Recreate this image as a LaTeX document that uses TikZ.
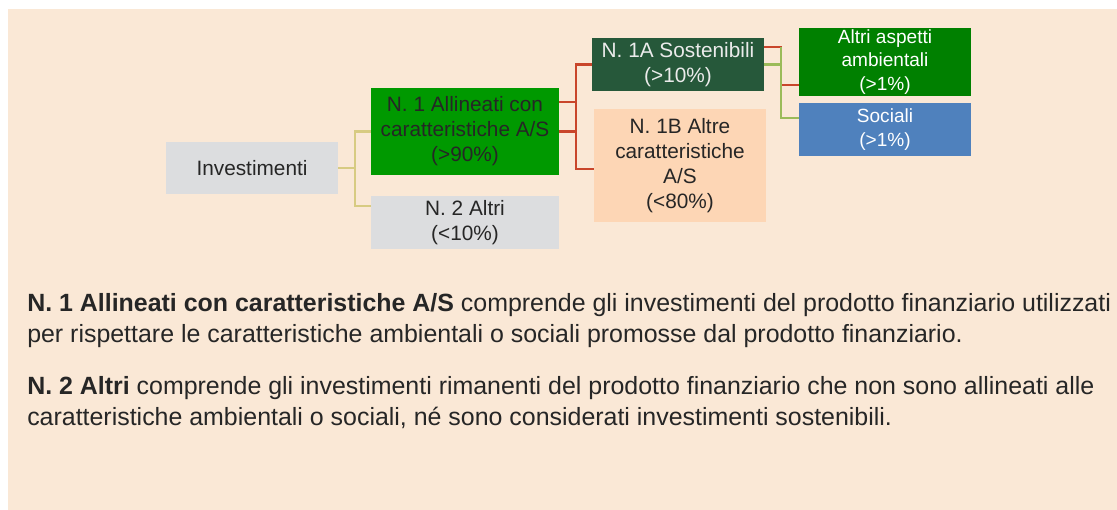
\documentclass[tikz,border=0pt]{standalone}
\usepackage{fontspec}
\setmainfont{Liberation Sans}
\usepackage{xcolor}
\usetikzlibrary{positioning,calc}
\definecolor{PanelBg}{RGB}{250,232,214}
\definecolor{BoxGray}{RGB}{220,221,223}
\definecolor{TextGray}{RGB}{38,38,38}
\definecolor{LeafGreen}{RGB}{0,153,0}
\definecolor{DeepGreen}{RGB}{38,88,58}
\definecolor{Peach}{RGB}{253,214,181}
\definecolor{PlainGreen}{RGB}{0,128,0}
\definecolor{SteelBlue}{RGB}{79,129,189}
\definecolor{LinkRed}{RGB}{201,70,43}
\definecolor{LinkOlive}{RGB}{215,203,130}
\definecolor{LinkGreen}{RGB}{155,187,89}

\begin{document}
\begin{tikzpicture}[x=0.75pt, y=-0.75pt,
    box/.style={inner sep=0pt, align=center, minimum width=129pt,
      font=\fontsize{15.6}{18.75}\selectfont, text=TextGray},
    link/.style={line width=1.6pt},
    para/.style={inner sep=0pt, align=left, anchor=base west, text=TextGray,
      font=\fontsize{18.7}{23.25}\selectfont}]
  \useasboundingbox (0,0) rectangle (1117,510);
  \fill[PanelBg] (8,9) rectangle (1117,510);
  % tree boxes
  \node[box, fill=BoxGray, minimum height=39pt] (inv) at (252,168) {Investimenti};
  \node[box, fill=LeafGreen, minimum width=141pt, minimum height=65.25pt] (n1) at (465,131.5) {N. 1 Allineati con\\caratteristiche A/S\\(>90\%)};
  \node[box, fill=BoxGray, minimum width=141pt, minimum height=39.75pt] (n2) at (465,222.5) {N. 2 Altri\\(<10\%)};
  \node[box, fill=DeepGreen, text=white!92!black, minimum height=39.75pt] (n1a) at (678,64.5) {N. 1A Sostenibili\\(>10\%)};
  \node[box, fill=Peach, minimum height=84.75pt] (n1b) at (680,165.5) {N. 1B Altre\\caratteristiche\\A/S\\(<80\%)};
  \node[box, fill=PlainGreen, text=white, minimum height=51pt, font=\fontsize{14.3}{17.6}\selectfont] (amb) at (885,62) {Altri aspetti\\ambientali\\(>1\%)};
  \node[box, fill=SteelBlue, text=white, minimum height=39.75pt, font=\fontsize{14.3}{17.6}\selectfont] (soc) at (885,129.5) {Sociali\\(>1\%)};
  % connectors
  \draw[link, LinkOlive] (inv.east) -- ++(17,0) coordinate (j1) |- (n1.west);
  \draw[link, LinkOlive] (j1) |- ([yshift=12.4pt]n2.west);
  \draw[link, LinkRed] ([yshift=22pt]n1.east) -- ++(17,0) coordinate (j2) |- (n1a.west);
  \draw[link, LinkRed] (n1.east) -| (j2) |- ([yshift=-2.6pt]n1b.west);
  \draw[link, LinkRed] ([yshift=13pt]n1a.east) -- ++(17,0) coordinate (j3) |- ([yshift=-17pt]amb.west);
  \draw[link, LinkGreen] (n1a.east) -| (j3) |- ([yshift=8.6pt]soc.west);
  % notes (base = last line)
  \node[para] (p1) at (27,342) {\textbf{N. 1 Allineati con caratteristiche A/S} comprende gli investimenti del prodotto finanziario utilizzati\\per rispettare le caratteristiche ambientali o sociali promosse dal prodotto finanziario.};
  \node[para] (p2) at (27,425) {\textbf{N. 2 Altri} comprende gli investimenti rimanenti del prodotto finanziario che non sono allineati alle\\caratteristiche ambientali o sociali, né sono considerati investimenti sostenibili.};
\end{tikzpicture}
\end{document}
